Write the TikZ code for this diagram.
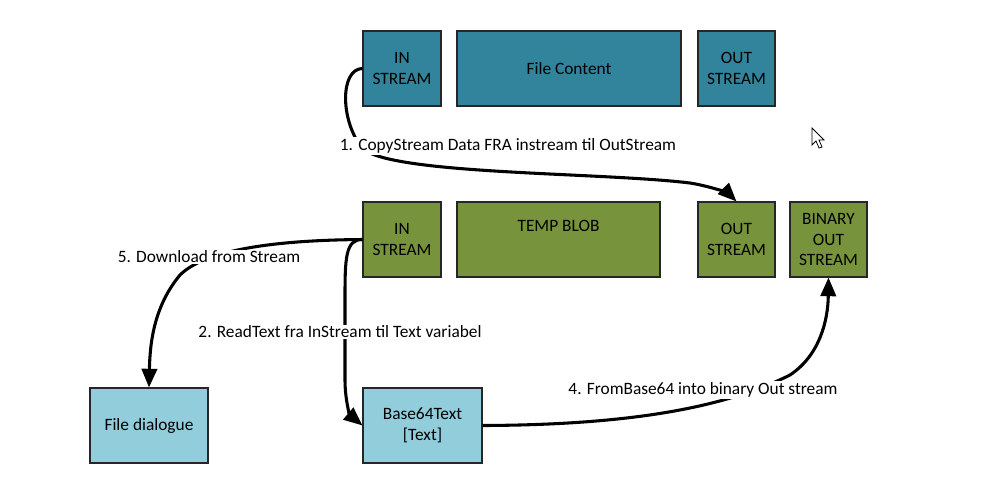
\documentclass[tikz,border=0pt]{standalone}
\usepackage{fontspec}
\setmainfont{Carlito}
\usetikzlibrary{arrows.meta}
\definecolor{teal}{HTML}{31849B}
\definecolor{olive}{HTML}{77933C}
\definecolor{lightblue}{HTML}{92CDDC}
\begin{document}
\begin{tikzpicture}[x=0.75pt, y=-0.75pt,
        every node/.style = {font=\fontsize{13}{15.5}\selectfont, align=center},
        block/.style = {draw=black!85, line width=0.8pt, inner sep=0pt, minimum height=56.25pt},
        flow/.style = {line width=2.3pt, -{Triangle[length=14pt,width=11.5pt]}},
        lbl/.style = {fill=white, inner sep=1pt}]
    \useasboundingbox (0,0) rectangle (996,490);
    % file in the upper row
    \node[block, fill=teal, minimum width=58.5pt] (inA) at (402,68.5) {IN\\STREAM};
    \node[block, fill=teal, minimum width=168pt] (content) at (569,68.5) {File Content};
    \node[block, fill=teal, minimum width=57.75pt] (outA) at (736.5,68.5) {OUT\\STREAM};
    % temp blob in the middle row
    \node[block, fill=olive, minimum width=58.5pt] (inB) at (402,239.5) {IN\\STREAM};
    \node[block, fill=olive, minimum width=152.25pt] (blob) at (558.5,239.5) {TEMP BLOB\\\strut};
    \node[block, fill=olive, minimum width=57.75pt] (outB) at (736.5,239.5) {OUT\\STREAM};
    \node[block, fill=olive, minimum width=57.75pt] (binout) at (828.5,239.5) {BINARY\\OUT\\STREAM};
    % bottom row
    \node[block, fill=lightblue, minimum width=88.5pt] (dialog) at (149,425.5) {File dialogue};
    \node[block, fill=lightblue, minimum width=89.25pt] (base64) at (422.5,425.5) {Base64Text\\{}[Text]};
    % connectors
    \draw[flow] (inA.west) .. controls (340,69) and (340,120) .. (362,148)
        .. controls (390,175) and (600,172) .. (690,183)
        .. controls (715,187) and (730,195) .. (outB.north);
    \draw[flow] (inB.west) .. controls (345,239) and (345,260) .. (345,300)
        -- (345,380) .. controls (345,400) and (350,415) .. (base64.west);
    \draw[flow] (inB.west) .. controls (300,240) and (210,245) .. (180,275)
        .. controls (155,305) and (150,340) .. (dialog.north);
    \draw[flow] (base64.east) .. controls (620,425) and (720,410) .. (790,375)
        .. controls (820,355) and (828,320) .. (binout.south);
    % step labels
    \node[lbl] (lblcopy) at (508,146) {1. CopyStream Data FRA instream til OutStream};
    \node[lbl] (lblread) at (340,332) {2. ReadText fra InStream til Text variabel};
    \node[lbl] (lblbase) at (703,390) {4. FromBase64 into binary Out stream};
    \node[lbl] (lbldown) at (209,257) {5. Download from Stream};
    % mouse pointer
    \draw[fill=white, line width=0.6pt] (812,128) -- (812,145) -- (816,141) -- (819,148)
        -- (822,147) -- (819,140) -- (824,140) -- cycle;
\end{tikzpicture}
\end{document}
